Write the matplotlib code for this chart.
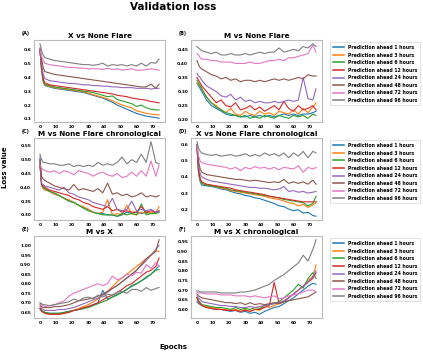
import matplotlib
matplotlib.use('Agg')
import matplotlib.pyplot as plt

epochs = [0, 1, 2, 3, 6, 9, 12, 15, 18, 21, 24, 27, 30, 33, 36, 39, 42, 45,
          48, 51, 54, 57, 60, 63, 66, 69, 72, 74]

labels = ['Prediction ahead 1 hours', 'Prediction ahead 3 hours',
          'Prediction ahead 6 hours', 'Prediction ahead 12 hours',
          'Prediction ahead 24 hours', 'Prediction ahead 48 hours',
          'Prediction ahead 72 hours', 'Prediction ahead 96 hours']

titles = ['X vs None Flare', 'M vs None Flare', 'M vs None Flare chronological',
          'X vs None Flare chronological', 'M vs X', 'M vs X chronological']
panel_tags = ['(A)', '(B)', '(C)', '(D)', '(E)', '(F)']

# (A) X vs None Flare
a_loss = [
    [0.6, 0.45, 0.37, 0.34, 0.33, 0.32, 0.315, 0.31, 0.305, 0.30, 0.295, 0.29, 0.28, 0.27, 0.26, 0.25, 0.235, 0.22, 0.2, 0.185, 0.17, 0.155, 0.14, 0.13, 0.12, 0.115, 0.11, 0.105],
    [0.6, 0.45, 0.37, 0.345, 0.335, 0.325, 0.32, 0.315, 0.31, 0.305, 0.30, 0.295, 0.285, 0.275, 0.265, 0.255, 0.245, 0.23, 0.215, 0.2, 0.19, 0.18, 0.16, 0.15, 0.14, 0.135, 0.13, 0.13],
    [0.6, 0.46, 0.38, 0.35, 0.34, 0.33, 0.325, 0.32, 0.315, 0.31, 0.305, 0.3, 0.295, 0.29, 0.28, 0.27, 0.26, 0.265, 0.24, 0.23, 0.22, 0.21, 0.19, 0.2, 0.18, 0.17, 0.165, 0.165],
    [0.59, 0.47, 0.39, 0.36, 0.345, 0.34, 0.335, 0.33, 0.325, 0.32, 0.315, 0.31, 0.305, 0.3, 0.295, 0.29, 0.285, 0.28, 0.27, 0.265, 0.26, 0.25, 0.245, 0.24, 0.235, 0.225, 0.22, 0.215],
    [0.6, 0.5, 0.42, 0.39, 0.375, 0.37, 0.365, 0.36, 0.355, 0.355, 0.35, 0.345, 0.345, 0.34, 0.34, 0.335, 0.335, 0.33, 0.33, 0.325, 0.325, 0.325, 0.32, 0.32, 0.32, 0.315, 0.32, 0.32],
    [0.61, 0.53, 0.47, 0.44, 0.43, 0.42, 0.415, 0.41, 0.405, 0.4, 0.395, 0.39, 0.385, 0.38, 0.375, 0.37, 0.365, 0.36, 0.355, 0.35, 0.345, 0.34, 0.335, 0.33, 0.33, 0.35, 0.32, 0.35],
    [0.6, 0.55, 0.52, 0.5, 0.49, 0.485, 0.48, 0.475, 0.47, 0.47, 0.465, 0.465, 0.46, 0.46, 0.46, 0.455, 0.465, 0.455, 0.46, 0.45, 0.455, 0.46, 0.45, 0.45, 0.455, 0.46, 0.455, 0.45],
    [0.64, 0.59, 0.56, 0.54, 0.53, 0.52, 0.515, 0.51, 0.505, 0.5, 0.495, 0.49, 0.49, 0.485, 0.49, 0.5, 0.48, 0.49, 0.485, 0.49, 0.48, 0.49, 0.48, 0.5, 0.48, 0.505, 0.5, 0.53],
]

# (B) M vs None Flare
b_loss = [
    [0.33, 0.32, 0.31, 0.3, 0.27, 0.25, 0.24, 0.23, 0.22, 0.215, 0.215, 0.21, 0.21, 0.215, 0.21, 0.215, 0.21, 0.215, 0.21, 0.215, 0.22, 0.215, 0.22, 0.215, 0.22, 0.22, 0.225, 0.23],
    [0.33, 0.325, 0.32, 0.31, 0.28, 0.26, 0.25, 0.235, 0.225, 0.24, 0.22, 0.215, 0.23, 0.22, 0.215, 0.23, 0.22, 0.225, 0.215, 0.23, 0.225, 0.22, 0.235, 0.22, 0.24, 0.225, 0.245, 0.26],
    [0.34, 0.33, 0.32, 0.31, 0.28, 0.26, 0.245, 0.235, 0.225, 0.22, 0.215, 0.21, 0.215, 0.205, 0.21, 0.205, 0.215, 0.21, 0.205, 0.215, 0.21, 0.205, 0.215, 0.21, 0.215, 0.205, 0.22, 0.215],
    [0.35, 0.34, 0.33, 0.32, 0.3, 0.28, 0.26, 0.27, 0.25, 0.245, 0.26, 0.235, 0.24, 0.25, 0.235, 0.245, 0.23, 0.24, 0.25, 0.235, 0.265, 0.24, 0.23, 0.25, 0.235, 0.24, 0.25, 0.235],
    [0.365, 0.355, 0.35, 0.34, 0.32, 0.31, 0.3, 0.285, 0.28, 0.29, 0.27, 0.28, 0.265, 0.27, 0.26, 0.265, 0.26, 0.26, 0.265, 0.26, 0.265, 0.27, 0.265, 0.27, 0.35, 0.275, 0.27, 0.31],
    [0.41, 0.395, 0.385, 0.38, 0.37, 0.36, 0.355, 0.345, 0.35, 0.34, 0.345, 0.335, 0.34, 0.34, 0.335, 0.34, 0.335, 0.34, 0.345, 0.34, 0.345, 0.34, 0.345, 0.35, 0.345, 0.36, 0.355, 0.355],
    [0.435, 0.43, 0.42, 0.415, 0.415, 0.41, 0.41, 0.405, 0.405, 0.405, 0.4, 0.4, 0.4, 0.405, 0.4, 0.4, 0.405, 0.41, 0.41, 0.415, 0.41, 0.42, 0.42, 0.425, 0.43, 0.435, 0.465, 0.44],
    [0.46, 0.455, 0.45, 0.445, 0.44, 0.435, 0.44, 0.43, 0.43, 0.435, 0.43, 0.43, 0.435, 0.43, 0.435, 0.44, 0.435, 0.44, 0.44, 0.455, 0.44, 0.445, 0.45, 0.445, 0.46, 0.455, 0.47, 0.46],
]

# (C) M vs None Flare chronological
c_loss = [
    [0.5, 0.41, 0.4, 0.395, 0.385, 0.375, 0.37, 0.36, 0.35, 0.345, 0.335, 0.325, 0.32, 0.31, 0.305, 0.305, 0.3, 0.3, 0.295, 0.3, 0.31, 0.305, 0.31, 0.305, 0.31, 0.305, 0.31, 0.31],
    [0.49, 0.405, 0.395, 0.39, 0.385, 0.375, 0.37, 0.36, 0.355, 0.345, 0.335, 0.33, 0.32, 0.31, 0.305, 0.31, 0.355, 0.3, 0.305, 0.3, 0.335, 0.305, 0.3, 0.31, 0.305, 0.31, 0.31, 0.33],
    [0.48, 0.41, 0.4, 0.395, 0.385, 0.38, 0.37, 0.36, 0.35, 0.345, 0.335, 0.325, 0.315, 0.31, 0.305, 0.3, 0.3, 0.3, 0.295, 0.305, 0.3, 0.305, 0.3, 0.34, 0.3, 0.305, 0.305, 0.31],
    [0.48, 0.41, 0.405, 0.4, 0.39, 0.385, 0.38, 0.375, 0.37, 0.36, 0.355, 0.345, 0.34, 0.33, 0.325, 0.32, 0.33, 0.315, 0.32, 0.31, 0.315, 0.31, 0.31, 0.33, 0.31, 0.315, 0.31, 0.315],
    [0.51, 0.415, 0.41, 0.405, 0.4, 0.395, 0.39, 0.4, 0.38, 0.375, 0.365, 0.36, 0.355, 0.345, 0.34, 0.335, 0.33, 0.36, 0.32, 0.315, 0.32, 0.35, 0.315, 0.32, 0.315, 0.32, 0.31, 0.315],
    [0.5, 0.44, 0.43, 0.425, 0.415, 0.405, 0.4, 0.395, 0.39, 0.41, 0.39, 0.395, 0.39, 0.385, 0.395, 0.38, 0.415, 0.375, 0.38, 0.37, 0.375, 0.365, 0.37, 0.38, 0.365, 0.37, 0.365, 0.37],
    [0.48, 0.47, 0.465, 0.46, 0.455, 0.46, 0.45, 0.46, 0.455, 0.445, 0.46, 0.455, 0.45, 0.44, 0.45, 0.455, 0.445, 0.44, 0.45, 0.435, 0.44, 0.455, 0.44, 0.46, 0.44, 0.495, 0.44, 0.48],
    [0.52, 0.5, 0.49, 0.49, 0.485, 0.485, 0.48, 0.48, 0.485, 0.475, 0.48, 0.475, 0.48, 0.475, 0.49, 0.48, 0.485, 0.48, 0.49, 0.51, 0.485, 0.5, 0.49, 0.52, 0.49, 0.565, 0.49, 0.485],
]

# (D) X vs None Flare chronological
d_loss = [
    [0.6, 0.42, 0.37, 0.35, 0.345, 0.34, 0.335, 0.325, 0.32, 0.31, 0.3, 0.295, 0.285, 0.28, 0.27, 0.265, 0.255, 0.245, 0.235, 0.22, 0.215, 0.2, 0.19, 0.195, 0.175, 0.18, 0.16, 0.155],
    [0.6, 0.43, 0.38, 0.36, 0.35, 0.345, 0.34, 0.33, 0.325, 0.315, 0.31, 0.305, 0.3, 0.295, 0.29, 0.285, 0.28, 0.27, 0.265, 0.26, 0.25, 0.24, 0.235, 0.22, 0.23, 0.21, 0.225, 0.24],
    [0.6, 0.44, 0.38, 0.36, 0.35, 0.345, 0.34, 0.335, 0.33, 0.32, 0.315, 0.31, 0.305, 0.3, 0.295, 0.29, 0.285, 0.28, 0.275, 0.27, 0.26, 0.255, 0.25, 0.245, 0.24, 0.22, 0.235, 0.28],
    [0.58, 0.44, 0.39, 0.37, 0.355, 0.35, 0.345, 0.34, 0.335, 0.33, 0.32, 0.315, 0.31, 0.305, 0.3, 0.295, 0.29, 0.28, 0.275, 0.27, 0.265, 0.26, 0.255, 0.25, 0.245, 0.245, 0.245, 0.245],
    [0.59, 0.47, 0.42, 0.4, 0.385, 0.375, 0.37, 0.365, 0.36, 0.355, 0.35, 0.345, 0.34, 0.335, 0.335, 0.33, 0.33, 0.325, 0.32, 0.325, 0.34, 0.31, 0.315, 0.305, 0.31, 0.3, 0.305, 0.31],
    [0.6, 0.5, 0.45, 0.43, 0.415, 0.41, 0.405, 0.4, 0.395, 0.39, 0.385, 0.385, 0.38, 0.375, 0.38, 0.375, 0.37, 0.365, 0.37, 0.365, 0.385, 0.36, 0.37, 0.36, 0.37, 0.355, 0.38, 0.355],
    [0.6, 0.53, 0.5, 0.49, 0.48, 0.475, 0.47, 0.465, 0.46, 0.45, 0.46, 0.44, 0.46, 0.45, 0.465, 0.455, 0.46, 0.45, 0.46, 0.445, 0.46, 0.455, 0.45, 0.47, 0.43, 0.46, 0.45, 0.46],
    [0.62, 0.58, 0.56, 0.55, 0.54, 0.535, 0.54, 0.53, 0.535, 0.54, 0.53, 0.535, 0.545, 0.53, 0.54, 0.53, 0.55, 0.535, 0.545, 0.53, 0.55, 0.52, 0.55, 0.53, 0.56, 0.52, 0.56, 0.55],
]

# (E) M vs X
e_loss = [
    [0.67, 0.66, 0.655, 0.65, 0.645, 0.645, 0.645, 0.65, 0.655, 0.66, 0.665, 0.67, 0.68, 0.69, 0.7, 0.765, 0.72, 0.73, 0.745, 0.755, 0.77, 0.785, 0.8, 0.815, 0.83, 0.85, 0.875, 0.895],
    [0.67, 0.66, 0.65, 0.645, 0.64, 0.64, 0.64, 0.645, 0.65, 0.66, 0.67, 0.68, 0.69, 0.705, 0.72, 0.74, 0.76, 0.785, 0.81, 0.83, 0.85, 0.87, 0.89, 0.91, 0.93, 0.95, 0.97, 0.97],
    [0.67, 0.66, 0.655, 0.65, 0.645, 0.645, 0.645, 0.65, 0.655, 0.66, 0.665, 0.67, 0.675, 0.685, 0.695, 0.705, 0.715, 0.73, 0.74, 0.755, 0.77, 0.79, 0.8, 0.815, 0.835, 0.85, 0.87, 0.875],
    [0.67, 0.655, 0.65, 0.645, 0.64, 0.64, 0.64, 0.645, 0.65, 0.66, 0.665, 0.675, 0.68, 0.69, 0.7, 0.715, 0.73, 0.74, 0.755, 0.77, 0.79, 0.8, 0.82, 0.84, 0.86, 0.87, 0.89, 0.935],
    [0.68, 0.67, 0.665, 0.66, 0.66, 0.66, 0.665, 0.665, 0.67, 0.675, 0.685, 0.695, 0.705, 0.715, 0.725, 0.74, 0.755, 0.775, 0.79, 0.81, 0.83, 0.85, 0.87, 0.895, 0.92, 0.95, 0.98, 1.0],
    [0.69, 0.68, 0.675, 0.675, 0.675, 0.68, 0.68, 0.685, 0.69, 0.7, 0.71, 0.715, 0.72, 0.725, 0.735, 0.745, 0.76, 0.775, 0.79, 0.81, 0.83, 0.85, 0.87, 0.9, 0.93, 0.95, 0.97, 1.03],
    [0.7, 0.69, 0.685, 0.68, 0.685, 0.69, 0.7, 0.71, 0.735, 0.75, 0.76, 0.77, 0.78, 0.79, 0.8, 0.79, 0.8, 0.84, 0.82, 0.83, 0.85, 0.84, 0.86, 0.855, 0.9, 0.88, 0.91, 0.89],
    [0.7, 0.695, 0.69, 0.69, 0.685, 0.69, 0.695, 0.7, 0.705, 0.72, 0.71, 0.725, 0.73, 0.72, 0.74, 0.73, 0.745, 0.74, 0.755, 0.76, 0.75, 0.77, 0.77, 0.76, 0.78, 0.765, 0.775, 0.78],
]

# (F) M vs X chronological
f_loss = [
    [0.64, 0.63, 0.625, 0.62, 0.61, 0.605, 0.6, 0.6, 0.595, 0.59, 0.595, 0.585, 0.59, 0.58, 0.585, 0.575, 0.59, 0.6, 0.61, 0.615, 0.63, 0.645, 0.66, 0.68, 0.7, 0.72, 0.735, 0.73],
    [0.66, 0.64, 0.63, 0.62, 0.615, 0.61, 0.605, 0.6, 0.6, 0.595, 0.6, 0.59, 0.6, 0.59, 0.6, 0.595, 0.62, 0.61, 0.62, 0.63, 0.64, 0.66, 0.68, 0.7, 0.72, 0.75, 0.77, 0.83],
    [0.66, 0.645, 0.635, 0.625, 0.62, 0.615, 0.61, 0.61, 0.605, 0.6, 0.61, 0.6, 0.605, 0.6, 0.61, 0.605, 0.62, 0.625, 0.63, 0.64, 0.66, 0.68, 0.7, 0.73, 0.71, 0.76, 0.79, 0.76],
    [0.66, 0.64, 0.63, 0.62, 0.61, 0.605, 0.6, 0.6, 0.595, 0.595, 0.595, 0.59, 0.595, 0.59, 0.6, 0.6, 0.61, 0.62, 0.74, 0.63, 0.64, 0.66, 0.68, 0.7, 0.72, 0.74, 0.76, 0.79],
    [0.67, 0.66, 0.65, 0.64, 0.635, 0.63, 0.625, 0.62, 0.62, 0.615, 0.615, 0.61, 0.61, 0.615, 0.61, 0.615, 0.62, 0.625, 0.63, 0.635, 0.645, 0.66, 0.68, 0.7, 0.72, 0.74, 0.77, 0.8],
    [0.68, 0.67, 0.665, 0.66, 0.655, 0.65, 0.645, 0.64, 0.635, 0.635, 0.63, 0.635, 0.625, 0.635, 0.625, 0.63, 0.625, 0.63, 0.635, 0.63, 0.64, 0.645, 0.65, 0.655, 0.66, 0.665, 0.68, 0.69],
    [0.69, 0.685, 0.685, 0.685, 0.68, 0.68, 0.68, 0.675, 0.675, 0.675, 0.67, 0.67, 0.67, 0.665, 0.67, 0.665, 0.66, 0.665, 0.67, 0.655, 0.66, 0.67, 0.675, 0.68, 0.69, 0.7, 0.7, 0.69],
    [0.695, 0.695, 0.69, 0.69, 0.69, 0.69, 0.69, 0.685, 0.685, 0.685, 0.685, 0.69, 0.69, 0.695, 0.7, 0.71, 0.72, 0.73, 0.75, 0.765, 0.78, 0.8, 0.82, 0.84, 0.88, 0.85, 0.91, 0.96],
]

all_loss = [a_loss, b_loss, c_loss, d_loss, e_loss, f_loss]
colors = ['tab:blue', 'tab:orange', 'tab:green', 'tab:red',
          'tab:purple', 'tab:brown', 'tab:pink', 'tab:gray']

plt.rcParams['font.family'] = 'DejaVu Sans'
plt.rcParams['font.weight'] = 'bold'

fig = plt.figure(figsize=(4.23, 3.54), dpi=100)

W, H = 423.0, 354.0
# pixel boxes (left, top) of each panel, all 131 x 82 px
lefts = [34, 191, 34, 191, 34, 191]
tops = [40, 40, 138, 138, 236, 236]

for i in range(6):
    ax = fig.add_axes([lefts[i] / W, 1 - (tops[i] + 82) / H, 131 / W, 82 / H])
    for j in range(8):
        ax.plot(epochs, all_loss[i][j], color=colors[j], lw=0.8, label=labels[j])
    ax.set_title(titles[i], fontsize=5.2, fontweight='bold', pad=1.5)
    ax.set_xticks([0, 10, 20, 30, 40, 50, 60, 70])
    ax.tick_params(labelsize=3.2, length=0, pad=2)
    for s in ax.spines.values():
        s.set_color('#bbbbbb')
        s.set_linewidth(0.8)
    fig.text((lefts[i] - 12) / W, 1 - (tops[i] - 7) / H, panel_tags[i],
             fontsize=3.5, fontweight='bold', ha='left', va='center')
    if i % 2 == 1:
        leg = ax.legend(loc='upper left', bbox_to_anchor=(1.045, 1.0),
                        fontsize=3.3, handlelength=2.4, borderpad=0.6,
                        labelspacing=0.55, framealpha=1, fancybox=False)
        leg.get_frame().set_edgecolor('#dddddd')
        leg.get_frame().set_linewidth(0.6)
        for line in leg.get_lines():
            line.set_linewidth(1.1)

fig.text(173 / W, 1 - 7 / H, 'Validation loss', fontsize=7.5, fontweight='bold',
         ha='center', va='center')
fig.text(5 / W, 1 - 167 / H, 'Loss value', fontsize=5, fontweight='bold',
         rotation=90, ha='center', va='center')
fig.text(173 / W, 1 - 347 / H, 'Epochs', fontsize=5, fontweight='bold',
         ha='center', va='center')

fig.savefig('out.png', dpi=100)
